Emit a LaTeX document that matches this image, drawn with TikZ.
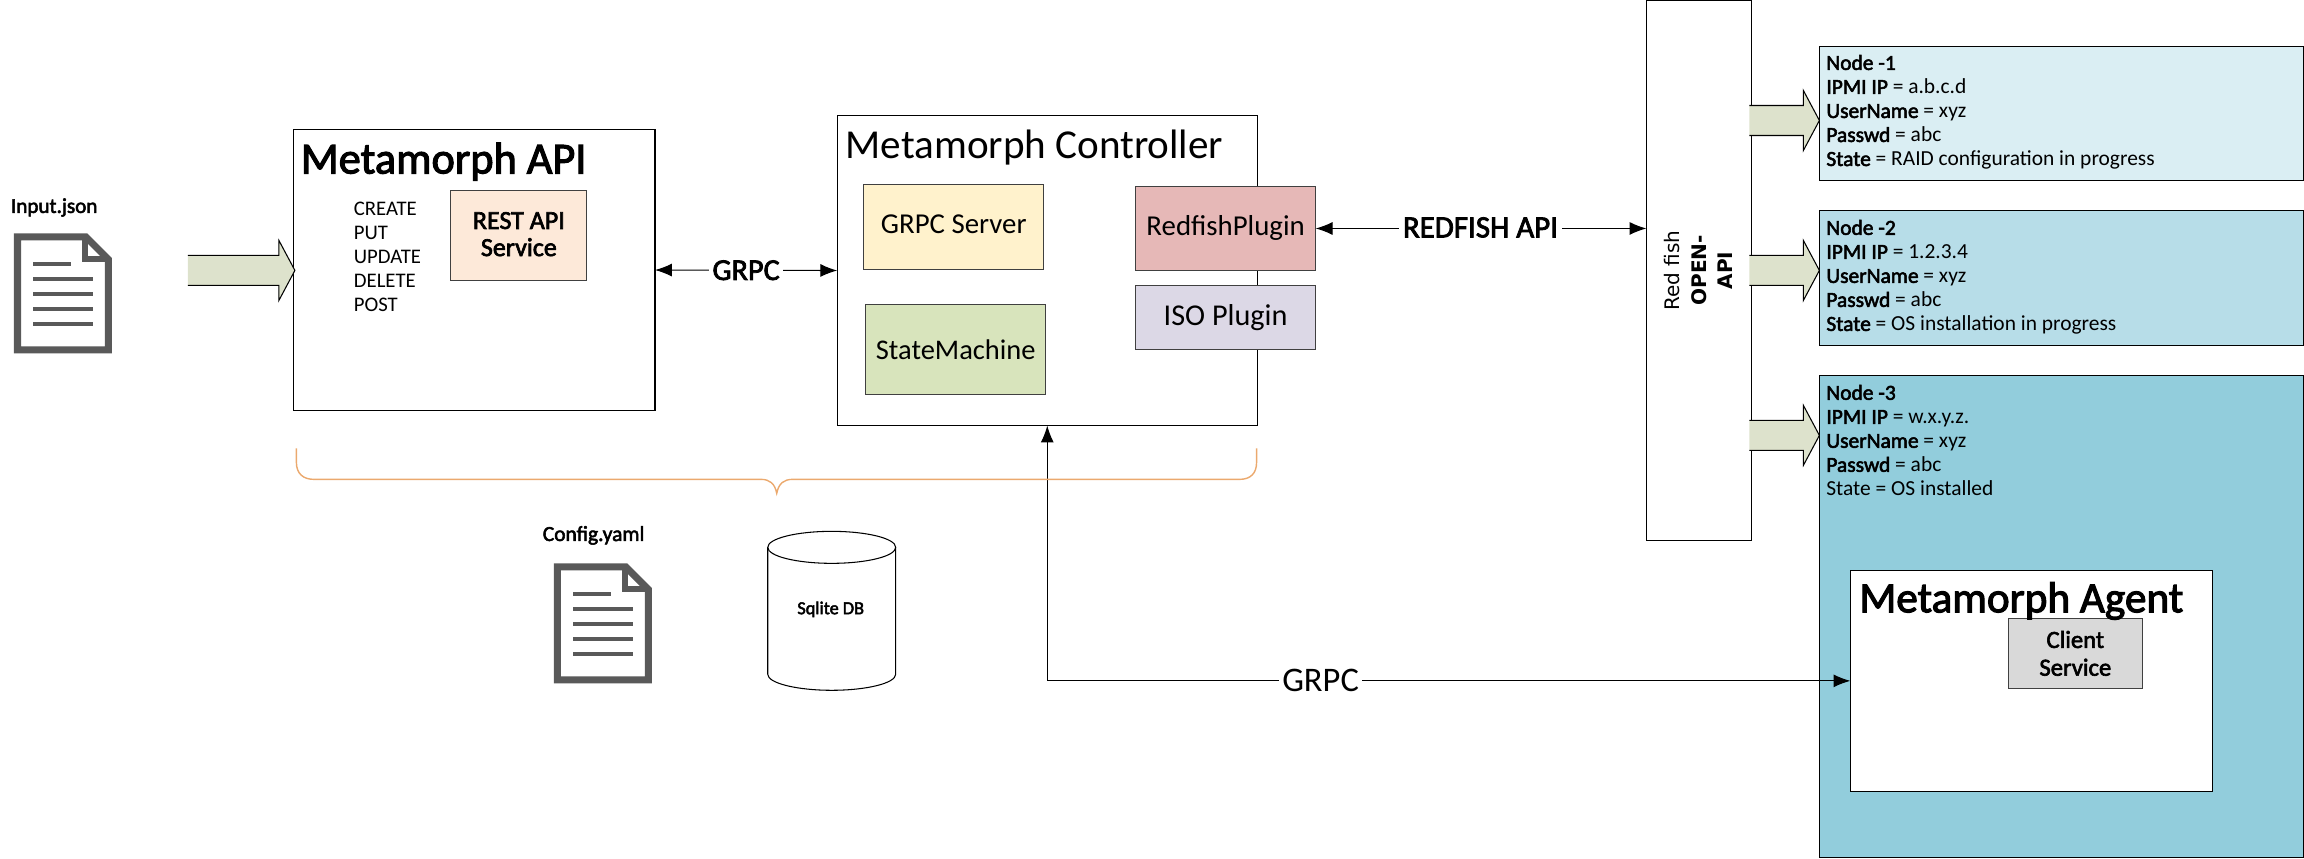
\documentclass[tikz,border=0pt]{standalone}
\usepackage{fontspec}
\setmainfont[BoldFont=Carlito,BoldFeatures={FakeBold=2.5}]{Carlito}
\newfontfamily\widefont{DejaVu Sans}
\usetikzlibrary{arrows.meta}
\newcommand{\fsz}[1]{\fontsize{#1}{#1}\selectfont}
\newcommand{\lsz}[1]{\fontsize{#1}{6.83pt}\selectfont}
\definecolor{hostone}{HTML}{DAEEF3}
\definecolor{hosttwo}{HTML}{B7DDE8}
\definecolor{hostthree}{HTML}{92CDDC}
\definecolor{restfill}{HTML}{FDE9D9}
\definecolor{grpcfill}{HTML}{FFF2CC}
\definecolor{statefill}{HTML}{D8E4BC}
\definecolor{redfishfill}{HTML}{E6B8B7}
\definecolor{isofill}{HTML}{DCD8E6}
\definecolor{clientfill}{HTML}{D9D9D9}
\definecolor{fatfill}{HTML}{DDE2CC}
\definecolor{bracecol}{HTML}{EBA96E}
\definecolor{docgray}{HTML}{595959}

\begin{document}
\begin{tikzpicture}
		[x=0.01cm,y=-0.01cm,every node/.style={inner sep=0pt,outer sep=0pt},
		box/.style={draw=black,line width=0.3pt,anchor=north west},
		service/.style={box,draw=black!75,align=center},
		apptitle/.style={anchor=base west},
		wirelabel/.style={fill=white,inner xsep=1pt,inner ysep=0.5pt},
		edge/.style={<->,>={Latex[length=4.8pt,width=3.7pt]},line width=0.3pt},
		fatarrow/.style={line width=0.3pt},
		hostlines/.style={anchor=north west,align=left,font=\lsz{6.1}}]

		% boxes
		\node[box,minimum width=3.61cm,minimum height=2.81cm] (api) at (294,129) {};
		\node[box,minimum width=4.20cm,minimum height=3.10cm] (ctrl) at (837.5,115) {};
		\node[box,minimum width=1.05cm,minimum height=5.40cm] (openapi) at (1647,0) {};
		\node[box,fill=hostone,minimum width=4.84cm,minimum height=1.34cm] (host1) at (1820,46) {};
		\node[box,fill=hosttwo,minimum width=4.84cm,minimum height=1.35cm] (host2) at (1820,210) {};
		\node[box,fill=hostthree,minimum width=4.84cm,minimum height=4.82cm] (host3) at (1820,375) {};
		\node[box,fill=white,minimum width=3.62cm,minimum height=2.21cm] (agent) at (1851,570) {};

		\node[service,fill=restfill,font=\fsz{7.4}\bfseries,text depth=0.8pt,minimum width=1.36cm,minimum height=0.90cm] (rest) at (451,190) {REST API\\[0.3pt]Service};
		\node[service,fill=grpcfill,font=\fsz{8.2},text depth=1.4pt,minimum width=1.80cm,minimum height=0.85cm] (grpcserver) at (864,184) {GRPC Server};
		\node[service,fill=statefill,font=\fsz{8.1},minimum width=1.80cm,minimum height=0.90cm] (statemachine) at (866,304) {StateMachine};
		\node[service,fill=redfishfill,font=\fsz{8.2},minimum width=1.80cm,minimum height=0.84cm] (redfish) at (1136,186) {RedfishPlugin};
		\node[service,fill=isofill,font=\fsz{8.6},minimum width=1.80cm,minimum height=0.64cm] (iso) at (1136,285) {ISO Plugin};
		\node[service,fill=clientfill,font=\fsz{7.0}\bfseries,minimum width=1.34cm,minimum height=0.70cm] (client) at (2009,618) {Client\\[0.9pt]Service};

		% titles
		\node[apptitle,font=\fsz{12.6}\bfseries] (apititle) at (301,173) {Metamorph API};
		\node[apptitle,font=\fsz{11.7}] (ctrltitle) at (846,158) {Metamorph Controller};
		\node[apptitle,font=\fsz{12.3}\bfseries] (agenttitle) at (1860,612) {Metamorph Agent};

		% texts
		\node[anchor=north west,align=left,font=\lsz{5.9}] (verbs) at (354,202) {CREATE\\PUT\\UPDATE\\DELETE\\POST};
		\node[anchor=west,font=\fsz{6}\bfseries] (inputlabel) at (11,207) {Input.json};
		\node[anchor=west,font=\fsz{6.1}\bfseries] (configlabel) at (543,535) {Config.yaml};
		\node[rotate=90,align=center,font=\widefont\fsz{5.7}] (openlabel) at (1699,270) {Red fish\\[1.9pt]\textbf{OPEN-}\\[1.9pt]\textbf{API}};

		\node[hostlines] (host1text) at (1827,54.5) {\textbf{Node -1}\\\textbf{IPMI IP} = a.b.c.d\\\textbf{UserName} = xyz\\\textbf{Passwd} = abc\\\textbf{State} = RAID configuration in progress};
		\node[hostlines] (host2text) at (1827,219.5) {\textbf{Node -2}\\\textbf{IPMI IP} = 1.2.3.4\\\textbf{UserName} = xyz\\\textbf{Passwd} = abc\\\textbf{State} = OS installation in progress};
		\node[hostlines] (host3text) at (1827,384.5) {\textbf{Node -3}\\\textbf{IPMI IP} = w.x.y.z.\\\textbf{UserName} = xyz\\\textbf{Passwd} = abc\\State = OS installed};

		% connectors
		\draw[edge] (api.east) -- (ctrl.west) node[midway,wirelabel,font=\fsz{8.6}\bfseries] (grpcupper) {GRPC};
		\draw[edge] (redfish.east) -- (redfish.east -| openapi.west);
		\node[wirelabel,font=\fsz{8.8}\bfseries] (redfishlabel) at (1481,227) {REDFISH API};
		\draw[edge] (ctrl.south) |- (agent.west);
		\node[wirelabel,font=\fsz{9.8}] (grpclower) at (1321,680) {GRPC};

		% fat arrows
		\foreach \x/\y/\l in {295/270/107,1820/120/70,1820/270/70,1820/435/70}
		{
			\fill[fatfill] (\x-16,-15+\y) -- (\x-\l,-15+\y) -- (\x-\l,15+\y) -- (\x-16,15+\y) -- (\x-16,30+\y) -- (\x,\y) -- (\x-16,-30+\y) -- cycle;
			\draw[fatarrow] (\x-\l,-15+\y) -- (\x-16,-15+\y) -- (\x-16,-30+\y) -- (\x,\y) -- (\x-16,30+\y) -- (\x-16,15+\y) -- (\x-\l,15+\y);
		}

		% brace
		\draw[bracecol,line width=0.4pt] (296.5,448) -- (296.5,462) .. controls (296.5,473) and (303,479) .. (314,479) -- (761,479) .. controls (770,479) and (775,483) .. (777,493) .. controls (779,483) and (784,479) .. (793,479) -- (1240,479) .. controls (1251,479) and (1257,473) .. (1257,462) -- (1257,448);

		% sqlite
		\draw[line width=0.3pt] (832,547) ellipse (64 and 16);
		\draw[line width=0.3pt] (768,547) -- (768,674) .. controls (768,682.8) and (796.7,690) .. (832,690) .. controls (867.3,690) and (896,682.8) .. (896,674) -- (896,547);
		\node[font=\fsz{5.2}\bfseries] (sqlite) at (831,609) {Sqlite DB};

		% documents
		\foreach \x/\y in {14/233,554/563}
		{
			\begin{scope}[shift={(\x,\y)},docgray]
				\draw[fill=white,line width=2pt] (3.5,3.5) -- (72,3.5) -- (94.5,26) -- (94.5,116.5) -- (3.5,116.5) -- cycle;
				\draw[line width=1.7pt] (71,3.5) -- (71,26) -- (94.5,26);
				\fill (19,29) rectangle (57,33);
				\foreach \b in {44,59,74,89}
				\fill (19,\b) rectangle (79,\b+4);
			\end{scope}
		}
		\useasboundingbox (0,0) rectangle (2304,858);
		\end{tikzpicture}
\end{document}
